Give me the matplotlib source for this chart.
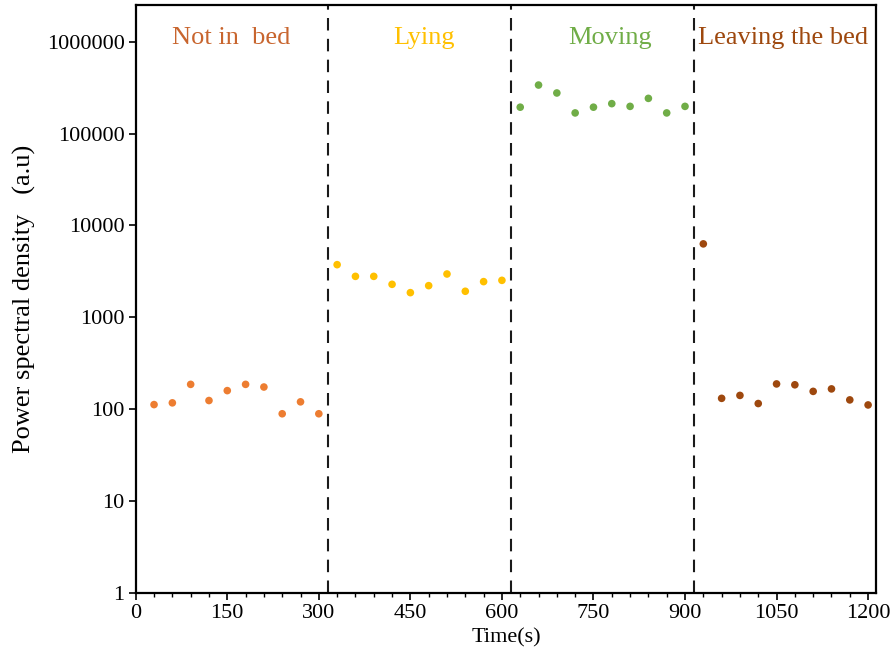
import matplotlib
matplotlib.use("Agg")
import matplotlib.pyplot as plt
from matplotlib.ticker import FixedLocator, MultipleLocator, NullLocator

plt.rcParams["font.family"] = ["Liberation Serif", "DejaVu Serif"]

# Data
t_not_in_bed = [30, 60, 90, 120, 150, 180, 210, 240, 270, 300]
psd_not_in_bed = [112, 117, 186, 124, 159, 186, 174, 89, 120, 89]

t_lying = [330, 360, 390, 420, 450, 480, 510, 540, 570, 600]
psd_lying = [3740, 2790, 2790, 2285, 1855, 2210, 2960, 1920, 2445, 2525]

t_moving = [630, 660, 690, 720, 750, 780, 810, 840, 870, 900]
psd_moving = [194000, 338000, 277000, 168000, 194000, 212000, 198000, 242000, 168000, 198000]

t_leaving = [930, 960, 990, 1020, 1050, 1080, 1110, 1140, 1170, 1200]
psd_leaving = [6300, 131, 141, 115, 188, 184, 156, 166, 126, 111]

boundaries = [315, 615, 915]
y_ticks = [1, 10, 100, 1000, 10000, 100000, 1000000]

phases = [
    ("Not in  bed", t_not_in_bed, psd_not_in_bed, "#ED7D31", "#C8652E", 157, "center"),
    ("Lying", t_lying, psd_lying, "#FFC000", "#FFC000", 472, "center"),
    ("Moving", t_moving, psd_moving, "#70AD47", "#70AD47", 777, "center"),
    ("Leaving the bed", t_leaving, psd_leaving, "#9E480E", "#9E480E", 921, "left"),
]

fig = plt.figure(figsize=(8.93, 6.55), dpi=100)
ax = fig.add_axes([0.152, 0.095, 0.829, 0.897])

for label, t, psd, color, tcolor, xt, ha in phases:
    ax.scatter(t, psd, s=30, color=color, edgecolors="none", zorder=3)
    ax.text(xt, 0.945, label, color=tcolor, fontsize=19, ha=ha, va="center",
            transform=ax.get_xaxis_transform())

for b in boundaries:
    ax.axvline(b, color="#1a1a1a", ls=(0, (6, 4)), lw=1.5, zorder=2)

ax.set_yscale("log")
ax.set_xlim(0, 1213)
ax.set_ylim(1, 2.5e6)

ax.xaxis.set_major_locator(MultipleLocator(150))
ax.xaxis.set_minor_locator(MultipleLocator(30))
ax.yaxis.set_major_locator(FixedLocator(y_ticks))
ax.yaxis.set_minor_locator(NullLocator())
ax.set_yticklabels([str(v) for v in y_ticks])

ax.tick_params(axis="both", which="major", direction="out", length=5, width=1.2,
               labelsize=16, colors="black", pad=3)
ax.tick_params(axis="x", which="minor", direction="out", length=3, width=1.0)

for s in ax.spines.values():
    s.set_linewidth(1.6)
    s.set_color("black")

ax.set_xlabel("Time(s)", fontsize=16, labelpad=4)
ax.set_ylabel("Power spectral density   (a.u)", fontsize=19, labelpad=8)

fig.savefig("out.png", dpi=100)
plt.close()
